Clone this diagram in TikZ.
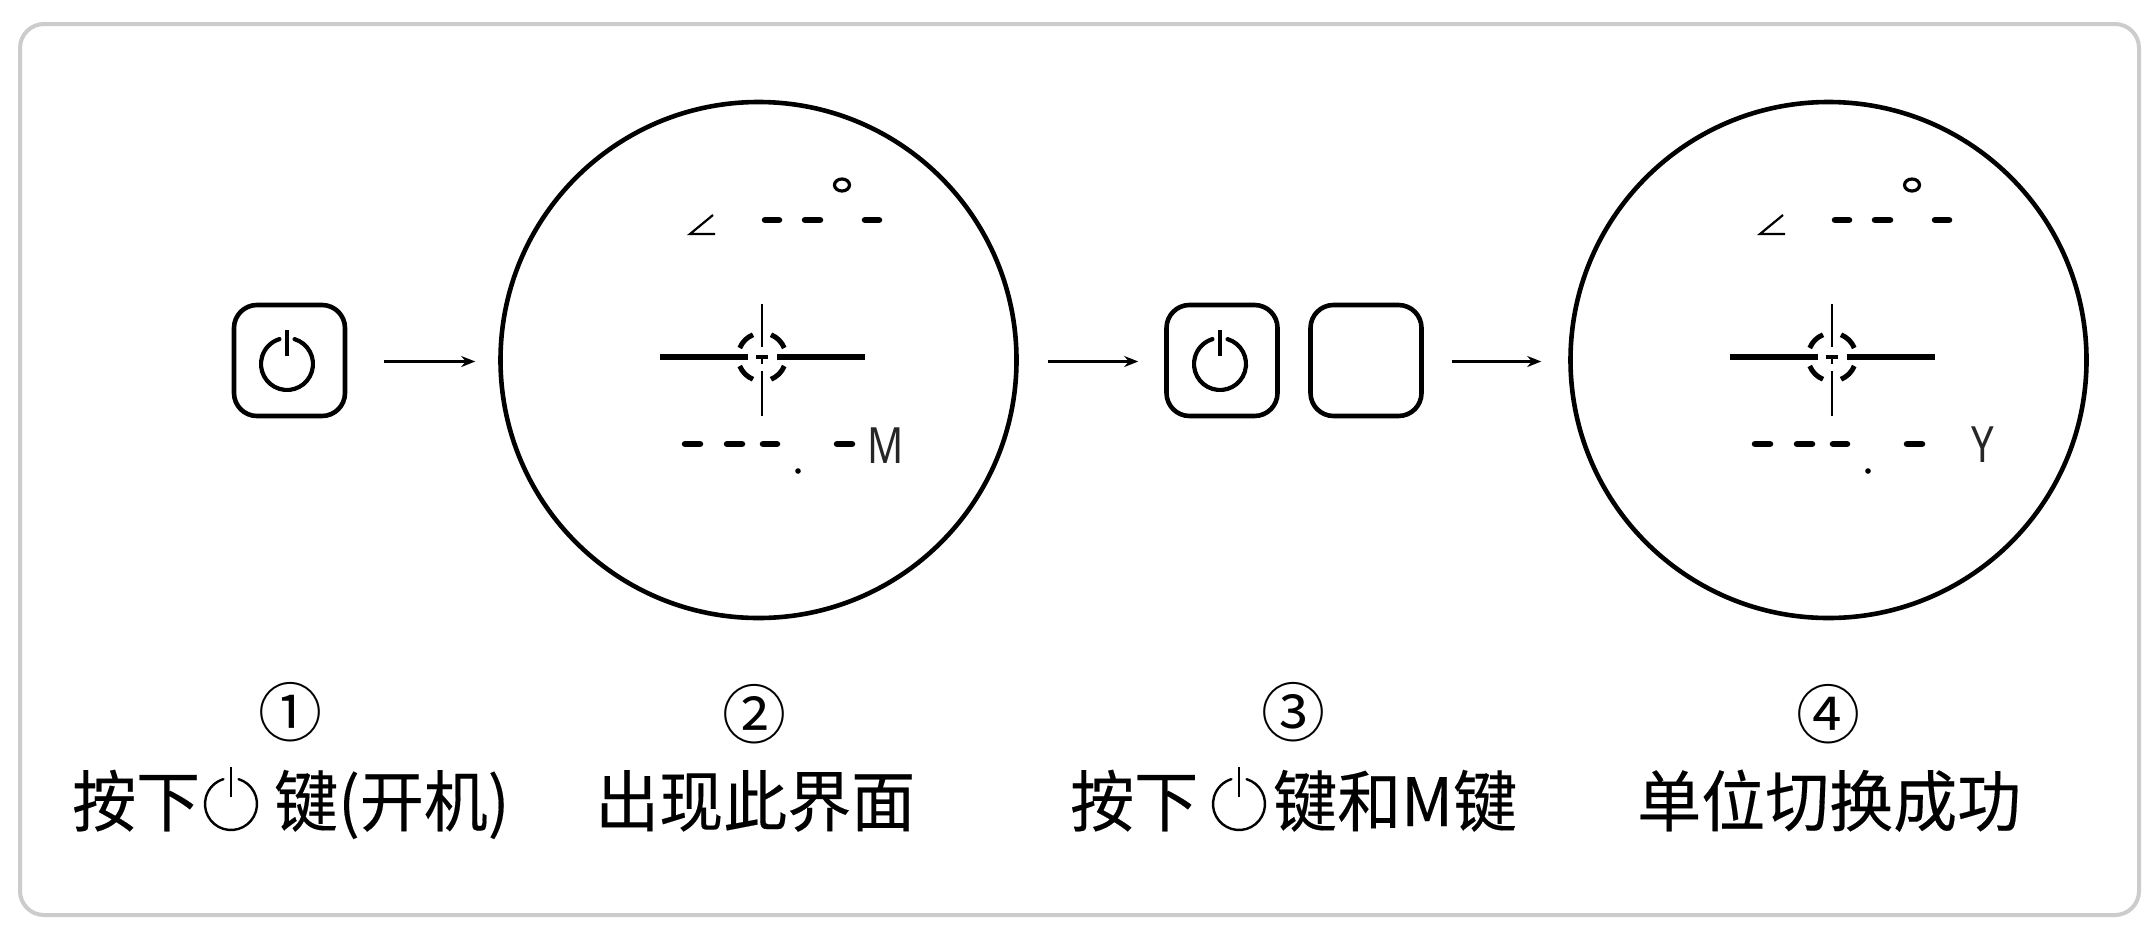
\documentclass[tikz,border=0pt]{standalone}
\usepackage{fontspec}
\usetikzlibrary{arrows.meta}
\setmainfont{Noto Sans CJK SC}
\newfontfamily\capfont[FakeBold=0.25]{Noto Sans CJK SC}
\newfontfamily\latinlabel{Noto Sans}
\tikzset{
  panel/.style={draw=black!20,line width=4pt,rounded corners=24pt,fill=white},
  keybox/.style={draw=black,line width=4.6pt,rounded corners=23pt,minimum size=111pt,inner sep=0pt,fill=white},
  display/.style={circle,draw=black,line width=4.6pt,minimum size=516pt,inner sep=0pt},
  arrowline/.style={draw=black,line width=2.4pt,-{Stealth[length=14pt,width=11pt]}},
  seg/.style={line width=6.5pt,line cap=round,draw=black},
  hairline/.style={line width=2.8pt,draw=black},
  ringarc/.style={line width=5pt,draw=black},
  captext/.style={font=\capfont\fontsize{64}{70}\selectfont,inner sep=0pt,anchor=base west,text=black,yscale=1.04},
  numtext/.style={font=\fontsize{64}{70}\selectfont,inner sep=0pt,anchor=center,text=black},
  readout/.style={font=\latinlabel\fontsize{50}{54}\selectfont,inner sep=0pt,xscale=.8,anchor=center,text=black!85}
}
% reticle and readouts of one display, drawn relative to the first display
\newcommand{\readings}[1]{%
\begin{scope}[xshift=#1pt]
  \draw[line width=5.5pt,draw=black] (660,357) -- (748,357) (777,357) -- (865,357);
  \draw[hairline] (762,304) -- (762,347) (762,371) -- (762,416);
  \foreach \a in {45,135,225,315}
    \draw[ringarc] (762,357) ++(\a-23:24pt) arc[start angle=\a-23,end angle=\a+23,radius=24pt];
  \draw[line width=4.5pt,draw=black] (756,357) -- (768,357);
  \draw[hairline] (762,357) -- (762,364);
  \draw[line width=3.2pt,draw=black] (842,185) ellipse[x radius=7.5pt,y radius=6pt];
  \draw[line width=2.2pt,draw=black] (713,215) -- (690,234) -- (715,234);
  \foreach \p/\q in {765/779,805/820,865/879}
    \draw[seg] (\p,220) -- (\q,220);
  \foreach \p/\q in {685/700,727/742,763/777,837/852}
    \draw[seg] (\p,444) -- (\q,444);
  \fill[black] (798,471) circle[radius=2.8pt];
\end{scope}}
% power symbol
\newcommand{\powersign}[6]{% x,y,radius,lw,bar top,bar bottom
  \draw[line width=#4pt,draw=black,line cap=round] (#1,#2) ++(73:#3pt) arc[start angle=73,end angle=-253,radius=#3pt];
  \draw[line width=#4pt,draw=black] (#1,#5) -- (#1,#6);}
\begin{document}
\begin{tikzpicture}[x=1pt,y=-1pt]
\useasboundingbox (0,0) rectangle (2154,927);
\fill[white] (0,0) rectangle (2154,927);
\path[panel] (20,24) rectangle (2139,915);

\node[keybox] (k1) at (289.5,360.5) {};
\node[display] (c2) at (758.5,360) {};
\node[keybox] (k2) at (1222,360.5) {};
\node[keybox] (k3) at (1366,360.5) {};
\node[display] (c4) at (1828.5,360) {};

\powersign{287}{364}{26}{4.2}{330}{356}
\powersign{1220}{364}{26}{4.2}{330}{356}

\draw[arrowline,shorten <=37pt,shorten >=23pt] (k1.east |- 0,361.5) coordinate (a1s) -- (c2.west |- 0,361.5) coordinate (a1e);
\draw[arrowline,shorten <=29pt,shorten >=26pt] (c2.east |- 0,361.5) coordinate (a2s) -- (k2.west |- 0,361.5) coordinate (a2e);
\draw[arrowline,shorten <=28pt,shorten >=27pt] (k3.east |- 0,361.5) coordinate (a3s) -- (c4.west |- 0,361.5) coordinate (a3e);

\readings{0}
\readings{1070}
\node[readout] (unitm) at (886,446) {M};
\node[readout] (unity) at (1983,445) {Y};

\node[numtext] (n1) at (290,712) {①};
\node[numtext] (n2) at (754,714) {②};
\node[numtext] (n3) at (1293,712) {③};
\node[numtext] (n4) at (1828,714) {④};

\node[captext] (t1a) at (72,826) {按下};
\powersign{231}{804}{26}{2.4}{767}{797}
\node[captext] (t1b) at (274,826) {键(开机)};
\node[captext] (t2) at (595,826) {出现此界面};
\node[captext] (t3a) at (1070,826) {按下};
\powersign{1239}{804}{26}{2.4}{767}{797}
\node[captext] (t3b) at (1273,826) {键和M键};
\node[captext] (t4) at (1637,826) {单位切换成功};
\end{tikzpicture}
\end{document}
